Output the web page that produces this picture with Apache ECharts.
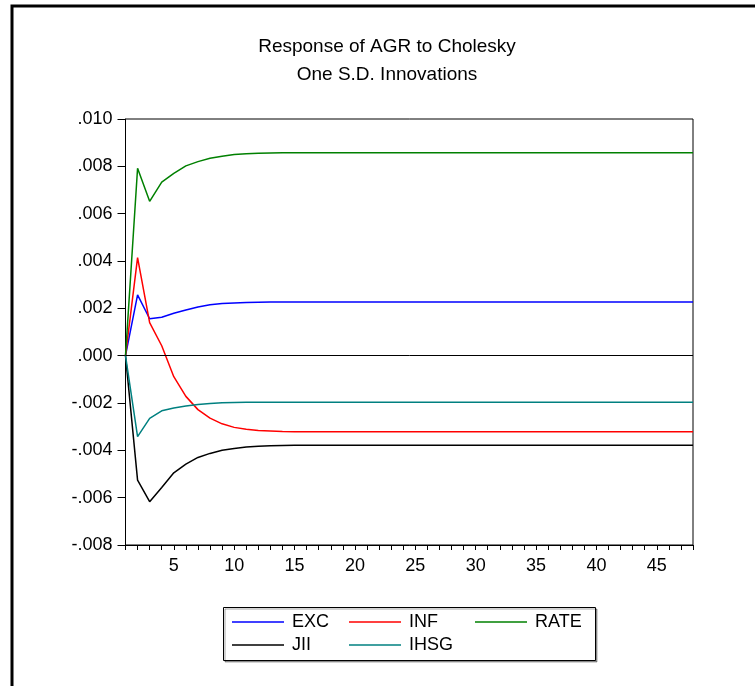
<!DOCTYPE html>
<html>
<head>
<meta charset="utf-8">
<script src="https://cdn.jsdelivr.net/npm/echarts@6/dist/echarts.min.js"></script>
<style>
  html, body { margin: 0; padding: 0; background: #fff; }
  #main { width: 755px; height: 686px; }
</style>
</head>
<body>
<div id="main"></div>
<script>
// periods 1..48
var periods = ['1','2','3','4','5','6','7','8','9','10','11','12','13','14','15','16',
  '17','18','19','20','21','22','23','24','25','26','27','28','29','30','31','32',
  '33','34','35','36','37','38','39','40','41','42','43','44','45','46','47','48'];

var yTicks = ['.010', '.008', '.006', '.004', '.002', '.000', '-.002', '-.004', '-.006', '-.008'];

var exc = [0, .00257, .00156, .00162, .00179, .00193, .00206, .00215, .00220, .00223, .00225, .00226,
  .00227, .00227, .00227, .00227, .00227, .00227, .00227, .00227, .00227, .00227, .00227, .00227,
  .00227, .00227, .00227, .00227, .00227, .00227, .00227, .00227, .00227, .00227, .00227, .00227,
  .00227, .00227, .00227, .00227, .00227, .00227, .00227, .00227, .00227, .00227, .00227, .00227];

var inf = [0, .00414, .00140, .00042, -.00089, -.00172, -.00228, -.00264, -.00288, -.00303, -.00311, -.00316,
  -.00318, -.00320, -.00321, -.00322, -.00322, -.00322, -.00322, -.00322, -.00322, -.00322, -.00322, -.00322,
  -.00322, -.00322, -.00322, -.00322, -.00322, -.00322, -.00322, -.00322, -.00322, -.00322, -.00322, -.00322,
  -.00322, -.00322, -.00322, -.00322, -.00322, -.00322, -.00322, -.00322, -.00322, -.00322, -.00322, -.00322];

var rate = [0, .00792, .00652, .00733, .00770, .00802, .00820, .00834, .00843, .00850, .00853, .00855,
  .00856, .00857, .00857, .00857, .00857, .00857, .00857, .00857, .00857, .00857, .00857, .00857,
  .00857, .00857, .00857, .00857, .00857, .00857, .00857, .00857, .00857, .00857, .00857, .00857,
  .00857, .00857, .00857, .00857, .00857, .00857, .00857, .00857, .00857, .00857, .00857, .00857];

var jii = [0, -.00526, -.00617, -.00557, -.00495, -.00458, -.00430, -.00413, -.00400, -.00392, -.00386, -.00383,
  -.00381, -.00380, -.00379, -.00379, -.00379, -.00379, -.00379, -.00379, -.00379, -.00379, -.00379, -.00379,
  -.00379, -.00379, -.00379, -.00379, -.00379, -.00379, -.00379, -.00379, -.00379, -.00379, -.00379, -.00379,
  -.00379, -.00379, -.00379, -.00379, -.00379, -.00379, -.00379, -.00379, -.00379, -.00379, -.00379, -.00379];

var ihsg = [0, -.00342, -.00265, -.00233, -.00221, -.00213, -.00206, -.00202, -.00199, -.00198, -.00197, -.00197,
  -.00197, -.00197, -.00197, -.00197, -.00197, -.00197, -.00197, -.00197, -.00197, -.00197, -.00197, -.00197,
  -.00197, -.00197, -.00197, -.00197, -.00197, -.00197, -.00197, -.00197, -.00197, -.00197, -.00197, -.00197,
  -.00197, -.00197, -.00197, -.00197, -.00197, -.00197, -.00197, -.00197, -.00197, -.00197, -.00197, -.00197];

var FONT = '"Liberation Sans", Arial, sans-serif';

function legendAt(name, left, top) {
    return {
        data: [name],
        left: left,
        top: top,
        padding: 0,
        icon: 'rect',
        itemWidth: 52,
        itemHeight: 1.5,
        itemGap: 0,
        textStyle: { fontFamily: FONT, fontSize: 18, color: '#000', padding: [0, 0, 0, 3] },
        selectedMode: false
    };
}

function lineSeries(name, data, color, extra) {
    var s = {
        name: name,
        type: 'line',
        data: data,
        color: color,
        showSymbol: false,
        symbol: 'none',
        silent: true,
        animation: false,
        lineStyle: { width: 1.5, color: color }
    };
    return Object.assign(s, extra || {});
}

var chart = echarts.init(document.getElementById('main'));
var option = {
    animation: false,
    backgroundColor: '#fff',
    grid: {
        left: 125.5, right: 62, top: 119, bottom: 141,
        show: true, borderColor: '#000', borderWidth: 1, backgroundColor: 'transparent'
    },
    xAxis: {
        type: 'category',
        data: periods,
        boundaryGap: false,
        axisLine: { onZero: false, lineStyle: { color: '#000', width: 1 } },
        axisTick: { show: true, interval: 0, length: 5, lineStyle: { color: '#000' } },
        axisLabel: {
            interval: function (i) { return (i + 1) % 5 === 0; },
            margin: 12,
            fontFamily: FONT, fontSize: 18, color: '#000'
        },
        splitLine: { show: false }
    },
    yAxis: {
        type: 'value',
        min: -0.008, max: 0.010, interval: 0.002,
        axisLine: { show: true, lineStyle: { color: '#000', width: 1 } },
        axisTick: { show: true, length: 8, lineStyle: { color: '#000' } },
        axisLabel: {
            margin: 13,
            fontFamily: FONT, fontSize: 18, color: '#000',
            formatter: function (v) {
                var i = Math.round((0.010 - v) / 0.002);
                return yTicks[i];
            }
        },
        splitLine: { show: false }
    },
    legend: [
        legendAt('EXC', 232, 613),
        legendAt('INF', 349, 613),
        legendAt('RATE', 475, 613),
        legendAt('JII', 232, 636),
        legendAt('IHSG', 349, 636)
    ],
    graphic: [
        { type: 'rect', shape: { x: 12, y: 6, width: 800, height: 800 },
          style: { fill: 'none', stroke: '#000', lineWidth: 3 }, silent: true, z: -1 },
        { type: 'text', x: 387, y: 47, silent: true,
          style: { text: 'Response of AGR to Cholesky', align: 'center', verticalAlign: 'middle',
                   font: '19px "Liberation Sans", Arial, sans-serif', fill: '#000' } },
        { type: 'text', x: 387, y: 75, silent: true,
          style: { text: 'One S.D. Innovations', align: 'center', verticalAlign: 'middle',
                   font: '19px "Liberation Sans", Arial, sans-serif', fill: '#000' } },
        { type: 'rect', shape: { x: 223.5, y: 607.5, width: 372, height: 53 },
          style: { fill: '#fff', stroke: '#000', lineWidth: 1, shadowColor: 'rgba(0,0,0,0.35)', shadowOffsetX: 1.5, shadowOffsetY: 1.5 },
          silent: true, z: -1 }
    ],
    series: [
        lineSeries('EXC', exc, '#0000ff', {
            markLine: {
                silent: true, symbol: 'none', label: { show: false },
                lineStyle: { color: '#000', width: 1, type: 'solid' },
                data: [{ yAxis: 0 }]
            }
        }),
        lineSeries('INF', inf, '#ff0000'),
        lineSeries('RATE', rate, '#008000'),
        lineSeries('JII', jii, '#000000'),
        lineSeries('IHSG', ihsg, '#008080')
    ]
};
chart.setOption(option);
</script>
</body>
</html>
